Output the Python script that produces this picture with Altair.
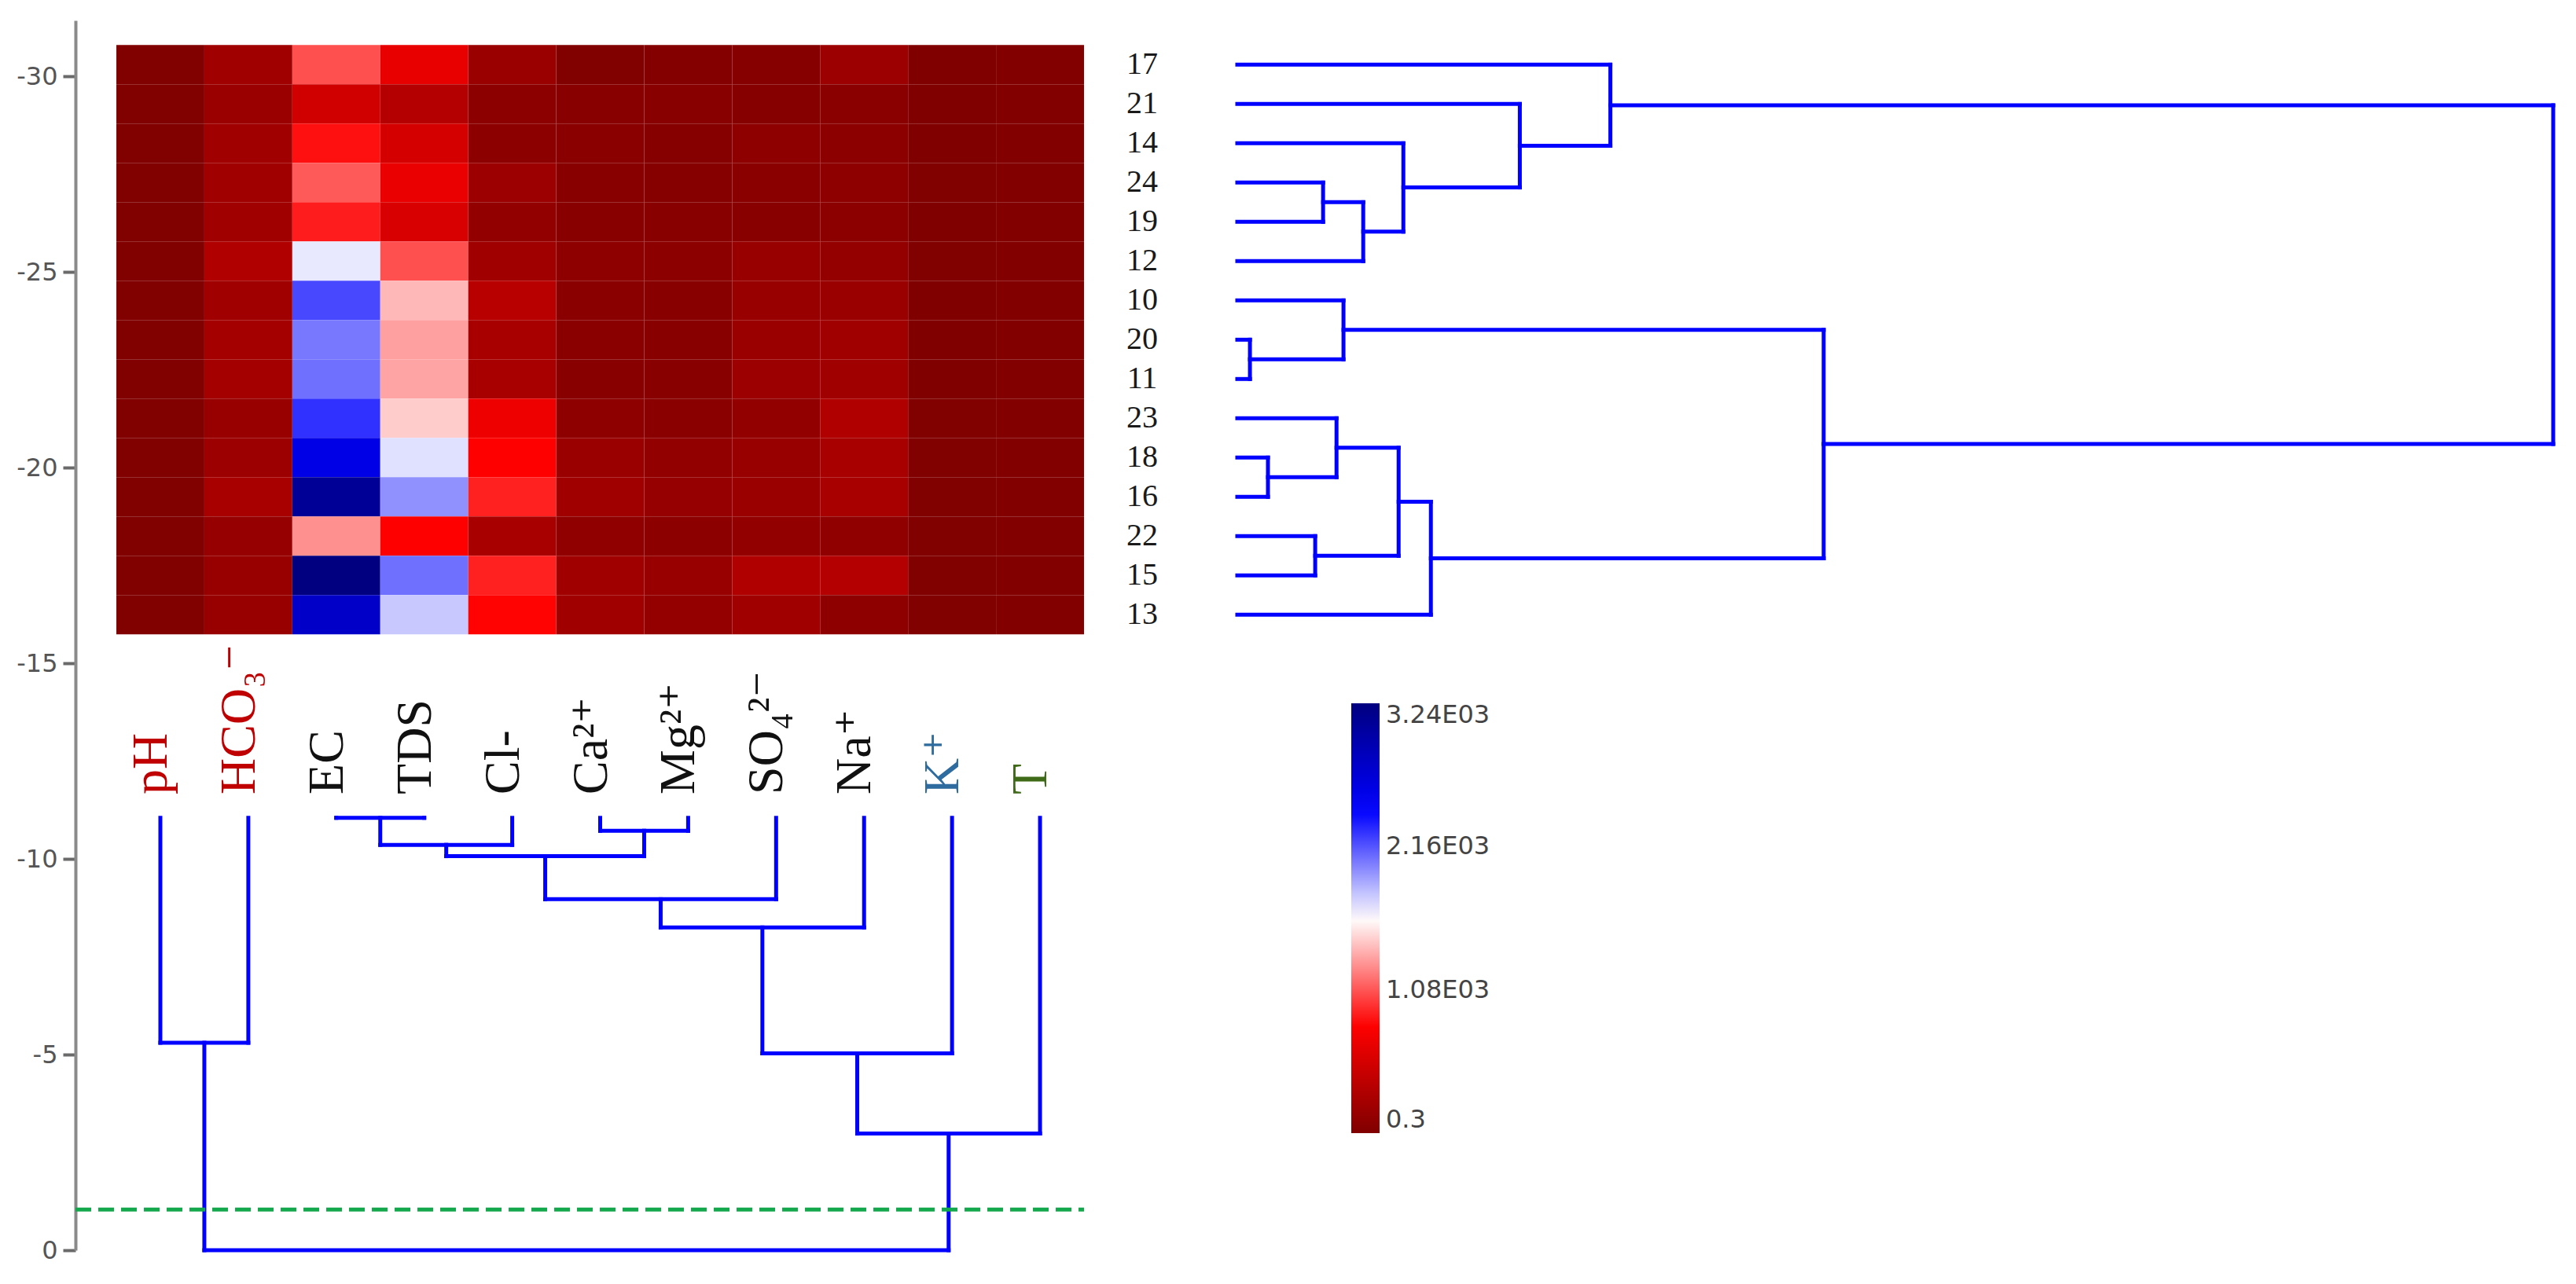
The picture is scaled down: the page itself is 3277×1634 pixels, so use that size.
import altair as alt
import pandas as pd

# ---------------- data ----------------
VARIABLES = ["pH", "HCO₃⁻", "EC", "TDS", "Cl-", "Ca²⁺", "Mg²⁺", "SO₄²⁻", "Na⁺", "K⁺", "T"]
VAR_GROUP = ["g1", "g1", "g2", "g2", "g2", "g2", "g2", "g2", "g2", "g3", "g4"]
SAMPLES = ["17", "21", "14", "24", "19", "12", "10", "20", "11", "23", "18", "16", "22", "15", "13"]

# heatmap values, one list per variable, rows in SAMPLES order
PH = [7.6, 7.4, 7.8, 7.5, 7.7, 7.3, 7.6, 7.2, 7.5, 7.4, 7.1, 7.3, 7.6, 7.2, 7.4]
HCO3 = [204, 166, 204, 204, 204, 306, 204, 230, 230, 153, 179, 255, 141, 153, 153]
EC = [1064, 510, 861, 1096, 899, 1693, 2201, 2049, 2074, 2278, 2590, 3100, 1268, 3240, 2781]
TDS = [663, 332, 536, 676, 561, 1064, 1394, 1318, 1331, 1458, 1719, 1973, 810, 2074, 1795]
CL = [166, 77, 77, 179, 115, 204, 357, 255, 255, 702, 810, 912, 255, 912, 815]
CA = [8, 51, 64, 51, 51, 90, 64, 64, 51, 90, 166, 204, 102, 204, 204]
MG = [26, 51, 39, 39, 51, 77, 51, 51, 51, 64, 115, 141, 77, 153, 128]
SO4 = [39, 39, 90, 64, 51, 153, 153, 166, 179, 115, 153, 166, 115, 306, 204]
NA = [179, 64, 77, 90, 77, 128, 166, 204, 204, 306, 255, 255, 102, 332, 90]
K = [3.1, 2.4, 2.8, 3.5, 2.2, 4.0, 3.3, 2.9, 3.0, 4.2, 5.1, 4.6, 3.8, 6.0, 4.4]
T = [16.5, 17.0, 16.8, 17.2, 16.9, 17.5, 16.4, 16.2, 16.6, 17.1, 17.8, 17.4, 16.7, 17.9, 17.3]
HEAT = [PH, HCO3, EC, TDS, CL, CA, MG, SO4, NA, K, T]

# column (variable) dendrogram: leaves 0..10, merges numbered from 11 (a, b, height)
COL_LEAF_H = -11.05
COL_MERGES = [
    (2, 3, -11.05),
    (5, 6, -10.72),
    (11, 4, -10.36),
    (13, 12, -10.07),
    (14, 7, -8.97),
    (15, 8, -8.25),
    (0, 1, -5.30),
    (16, 9, -5.03),
    (18, 10, -2.98),
    (17, 19, 0.0),
]
CUT_LEVEL = -1.04

# row (sample) dendrogram: leaves 0..14, merges numbered from 15 (a, b, distance)
ROW_MERGES = [
    (7, 8, 0.96),
    (10, 11, 2.33),
    (12, 13, 5.92),
    (3, 4, 6.52),
    (9, 16, 7.54),
    (6, 15, 8.07),
    (18, 5, 9.57),
    (19, 17, 12.26),
    (2, 21, 12.62),
    (22, 14, 14.71),
    (1, 23, 21.47),
    (0, 25, 28.35),
    (20, 24, 44.56),
    (26, 27, 100.0),
]

# ---------------- layout ----------------
W, H = 3160, 1565
Y_DOMAIN = [-31.43, 0]
XL_DOMAIN = [-0.465, 11]
XL_RANGE = [0, 1283]
XR_DOMAIN = [0, 100]
XR_RANGE = [1478, 3152]
HEAT_TOP = -30.80
ROW_H = 1.004

BLUE = "#0000ff"
SERIF = "Liberation Serif, DejaVu Serif, serif"
SANS = "DejaVu Sans, Verdana, sans-serif"

YS = alt.Scale(domain=Y_DOMAIN, reverse=True, nice=False, zero=False)
YAX = alt.Axis(
    values=[-30, -25, -20, -15, -10, -5, 0],
    labelExpr="'' + datum.value",
    grid=False,
    domainColor="#8a8a8a",
    domainWidth=4,
    tickColor="#6a6a6a",
    tickWidth=4,
    tickSize=16,
    labelPadding=7,
    labelFont=SANS,
    labelFontSize=32,
    labelColor="#555555",
    title=None,
)
XL = alt.Scale(domain=XL_DOMAIN, range=XL_RANGE, nice=False, zero=False)
XR = alt.Scale(domain=XR_DOMAIN, range=XR_RANGE, nice=False, zero=False)


def segments(merges, n_leaves, leaf_pos, leaf_h):
    pos = {i: p for i, p in enumerate(leaf_pos)}
    hh = {i: leaf_h for i in range(n_leaves)}
    segs = []
    for k, (a, b, h) in enumerate(merges):
        node = n_leaves + k
        for c in (a, b):
            segs.append({"p1": pos[c], "p2": pos[c], "h1": hh[c], "h2": h})
        segs.append({"p1": pos[a], "p2": pos[b], "h1": h, "h2": h})
        pos[node] = (pos[a] + pos[b]) / 2
        hh[node] = h
    return pd.DataFrame(segs)


# heatmap table
heat_rows = []
for r, s in enumerate(SAMPLES):
    for c, v in enumerate(VARIABLES):
        y0 = HEAT_TOP + r * ROW_H
        heat_rows.append({"sample": s, "var": v, "x": c, "x2": c + 1,
                          "y": y0, "y2": y0 + ROW_H, "value": HEAT[c][r]})
heat_df = pd.DataFrame(heat_rows)

col_leaf_x = [i + 0.5 for i in range(len(VARIABLES))]
col_df = segments(COL_MERGES, len(VARIABLES), col_leaf_x, COL_LEAF_H)

row_leaf_y = [HEAT_TOP + (i + 0.5) * ROW_H for i in range(len(SAMPLES))]
row_df = segments(ROW_MERGES, len(SAMPLES), row_leaf_y, 0.0)

col_lab_df = pd.DataFrame({"label": VARIABLES, "group": VAR_GROUP,
                           "x": col_leaf_x, "y": [-11.65] * len(VARIABLES)})
row_lab_df = pd.DataFrame({"label": SAMPLES, "y": row_leaf_y, "d": [0.0] * len(SAMPLES)})
cut_df = pd.DataFrame({"x": [XL_DOMAIN[0]], "x2": [11.0], "y": [CUT_LEVEL]})

CS = alt.Scale(domain=[0.3, 810.2, 1620.2, 2430.1, 3240],
               range=["#800000", "#ff0000", "#ffffff", "#0000ff", "#000080"],
               interpolate="rgb")

LEG = alt.Legend(
    type="gradient",
    orient="none", legendX=1623, legendY=869, direction="vertical",
    title=None, gradientLength=547, gradientThickness=36, gradientStrokeWidth=0,
    values=[0.3, 1080.1, 2160.0, 3240],
    labelExpr="datum.value < 1 ? '0.3' : format(datum.value / 1000, '.2f') + 'E03'",
    labelFont=SANS, labelFontSize=32, labelColor="#444444", labelOffset=8,
    labelBaseline="middle", labelOverlap=False, padding=0, offset=0,
)

heat = alt.Chart(heat_df).mark_rect().encode(
    x=alt.X("x:Q", scale=XL, axis=None),
    x2="x2:Q",
    y=alt.Y("y:Q", scale=YS, axis=YAX),
    y2="y2:Q",
    color=alt.Color("value:Q", scale=CS, legend=LEG),
)

col_dendro = alt.Chart(col_df).mark_rule(color=BLUE, strokeWidth=5, strokeCap="square").encode(
    x=alt.X("p1:Q", scale=XL, axis=None),
    x2="p2:Q",
    y=alt.Y("h1:Q", scale=YS, axis=YAX),
    y2="h2:Q",
)

row_dendro = alt.Chart(row_df).mark_rule(color=BLUE, strokeWidth=5, strokeCap="square").encode(
    x=alt.X("h1:Q", scale=XR, axis=None),
    x2="h2:Q",
    y=alt.Y("p1:Q", scale=YS, axis=YAX),
    y2="p2:Q",
)

cut = alt.Chart(cut_df).mark_rule(color="#13a84b", strokeWidth=5, strokeDash=[20, 9]).encode(
    x=alt.X("x:Q", scale=XL, axis=None),
    x2="x2:Q",
    y=alt.Y("y:Q", scale=YS, axis=YAX),
)

col_labels = alt.Chart(col_lab_df).mark_text(
    angle=270, align="left", baseline="alphabetic", dy=8, font=SERIF, fontSize=64
).encode(
    x=alt.X("x:Q", scale=XL, axis=None),
    y=alt.Y("y:Q", scale=YS, axis=YAX),
    text="label:N",
    color=alt.Color("group:N",
                    scale=alt.Scale(domain=["g1", "g2", "g3", "g4"],
                                    range=["#c00000", "#111111", "#2e6b9e", "#3f6a17"]),
                    legend=None),
)

row_labels = alt.Chart(row_lab_df).mark_text(
    align="center", baseline="middle", dx=-121, font=SERIF, fontSize=40, color="#1a1a1a"
).encode(
    x=alt.X("d:Q", scale=XR, axis=None),
    y=alt.Y("y:Q", scale=YS, axis=YAX),
    text="label:N",
)

chart = alt.layer(heat, col_dendro, row_dendro, cut, col_labels, row_labels).resolve_scale(
    x="independent", color="independent"
).properties(
    width=W, height=H,
    autosize=alt.AutoSizeParams(type="none"),
    padding={"left": 88, "top": 18, "right": 10, "bottom": 30},
    background="white",
).configure_view(stroke=None)

chart.save("out.html", embed_options={"renderer": "svg", "actions": False})
